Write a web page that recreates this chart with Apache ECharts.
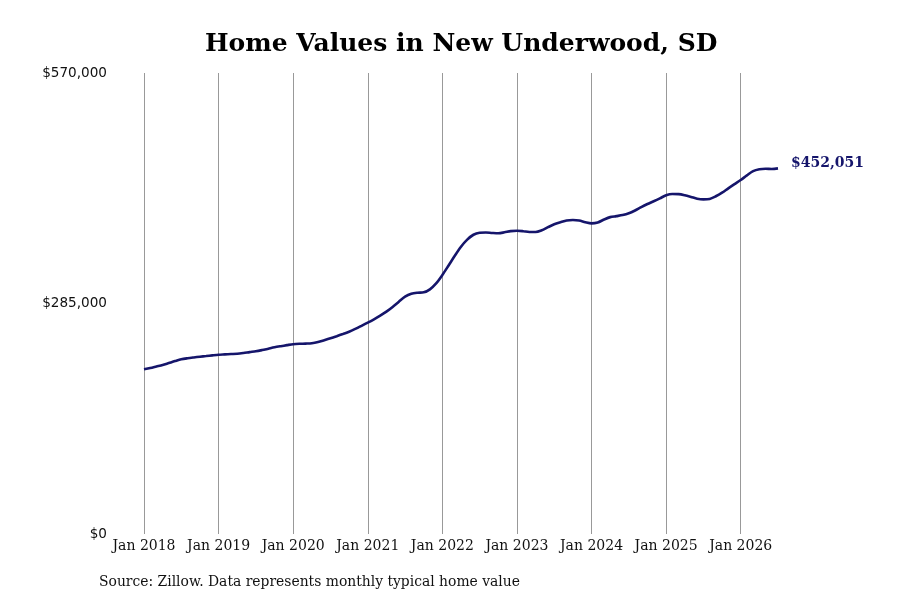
<!DOCTYPE html>
<html>
<head>
<meta charset="utf-8">
<script src="https://cdn.jsdelivr.net/npm/echarts@6/dist/echarts.min.js"></script>
<style>
  html, body { margin: 0; padding: 0; background: #fff; }
  #chart { width: 900px; height: 600px; }
</style>
</head>
<body>
<div id="chart"></div>
<script>
// 数据：月度典型房价（2018-01 至 2026-07）
var startYear = 2018;
var tickLabels = ['Jan 2018', 'Jan 2019', 'Jan 2020', 'Jan 2021', 'Jan 2022',
                  'Jan 2023', 'Jan 2024', 'Jan 2025', 'Jan 2026'];
var yTicks = [0, 285000, 570000];

var values2018 = [203600, 205200, 207100, 209000, 211400, 213800, 216000, 217300, 218300, 219200, 220000, 220900];
var values2019 = [221700, 222100, 222500, 222900, 223800, 224900, 225900, 227400, 229100, 230800, 232200, 233500];
var values2020 = [234700, 235200, 235400, 235800, 237300, 239600, 242000, 244600, 247300, 250100, 253600, 257400];
var values2021 = [261300, 265400, 269900, 274900, 280700, 287200, 293400, 297000, 298300, 298800, 302500, 309800];
var values2022 = [320200, 332000, 344000, 355200, 364000, 370000, 372500, 372800, 372200, 371800, 373000, 374500];
var values2023 = [375000, 374400, 373400, 373400, 375600, 379400, 382900, 385400, 387600, 388200, 387600, 385500];
var values2024 = [384100, 385200, 388800, 391800, 393000, 394300, 396500, 400000, 404200, 408000, 411400, 415000];
var values2025 = [418800, 420400, 420200, 418800, 416800, 414600, 413800, 414300, 417600, 422000, 427400, 432600];
var values2026 = [437700, 443400, 448600, 450900, 451600, 451300, 452051];

var values = [].concat(values2018, values2019, values2020, values2021, values2022,
                       values2023, values2024, values2025, values2026);

// 月份类目
var months = [];
for (var i = 0; i < values.length; i++) {
    var y = startYear + Math.floor(i / 12);
    var m = i % 12 + 1;
    months.push(y + '-' + (m < 10 ? '0' + m : m));
}

function money(v) {
    return '$' + v.toString().replace(/\B(?=(\d{3})+(?!\d))/g, ',');
}

var chart = echarts.init(document.getElementById('chart'));
var navy = '#15156b';
var isJan = function (idx) { return idx % 12 === 0; };

chart.setOption({
    backgroundColor: '#fff',
    animation: false,
    title: [
        {
            text: 'Home Values in New Underwood, SD',
            left: 205,
            top: 32,
            padding: 0,
            textStyle: {
                fontFamily: 'DejaVu Serif',
                fontWeight: 'bold',
                fontSize: 25,
                color: '#000'
            }
        },
        {
            text: 'Source: Zillow. Data represents monthly typical home value',
            left: 99,
            top: 575,
            padding: 0,
            textStyle: {
                fontFamily: 'DejaVu Serif',
                fontWeight: 'normal',
                fontSize: 13.9,
                color: '#111'
            }
        }
    ],
    grid: {
        left: 144,
        right: 122,
        top: 73,
        bottom: 66
    },
    xAxis: {
        type: 'category',
        data: months,
        boundaryGap: false,
        axisLine: { show: false },
        axisTick: { show: false },
        axisLabel: {
            interval: 0,
            margin: 5,
            fontFamily: 'DejaVu Serif',
            fontSize: 14,
            color: '#111',
            formatter: function (val, idx) {
                return isJan(idx) ? tickLabels[idx / 12] : '';
            }
        },
        splitLine: {
            show: true,
            interval: function (idx) { return isJan(idx); },
            lineStyle: { color: '#999', width: 1 }
        }
    },
    yAxis: {
        type: 'value',
        min: yTicks[0],
        max: yTicks[2],
        interval: yTicks[1],
        axisLine: { show: false },
        axisTick: { show: false },
        splitLine: { show: false },
        axisLabel: {
            margin: 37,
            fontFamily: 'DejaVu Sans',
            fontSize: 13.6,
            color: '#111',
            formatter: money
        }
    },
    series: [
        {
            type: 'line',
            data: values,
            smooth: 0.3,
            showSymbol: false,
            lineStyle: { color: navy, width: 2.6 },
            endLabel: {
                show: true,
                distance: 13,
                formatter: function (p) { return money(p.value); },
                fontFamily: 'DejaVu Serif',
                fontWeight: 'bold',
                fontSize: 14,
                color: navy,
                offset: [0, -5]
            }
        }
    ]
});
</script>
</body>
</html>
